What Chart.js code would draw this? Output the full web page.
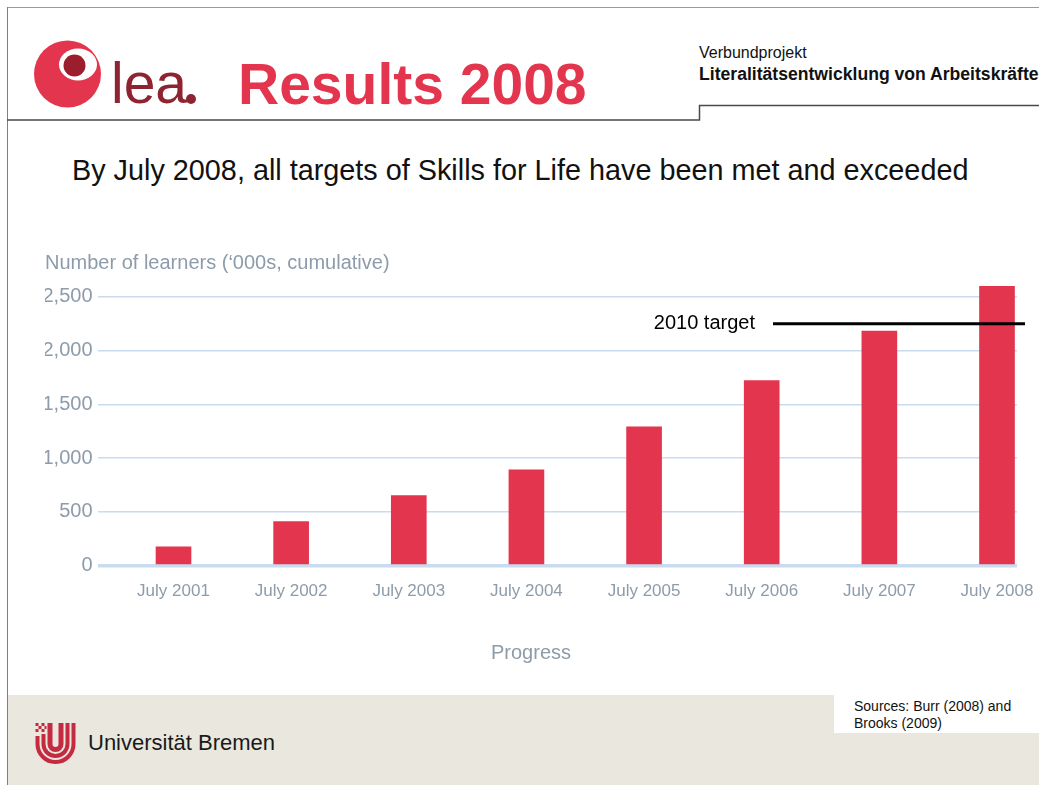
<!DOCTYPE html>
<html>
<head>
<meta charset="utf-8">
<script src="https://cdn.jsdelivr.net/npm/chart.js@4"></script>
<style>
  html, body { margin:0; padding:0; background:#fff; width:1039px; height:785px; overflow:hidden; }
  #deco { position:absolute; left:0; top:0; }
  #wrap { position:absolute; left:25px; top:241px; width:1014px; height:430px; }
  svg text { font-family:'Liberation Sans', Arial, Helvetica, sans-serif; }
</style>
</head>
<body>
<svg id="deco" width="1039" height="785" xmlns="http://www.w3.org/2000/svg">
  <!-- slide frame -->
  <line x1="7" y1="7.5" x2="1039" y2="7.5" stroke="#9a9a9a" stroke-width="1"/>
  <line x1="7.5" y1="7" x2="7.5" y2="785" stroke="#808080" stroke-width="1"/>
  <!-- footer band -->
  <rect x="8" y="695" width="1031" height="90" fill="#EAE8DE"/>
  <rect x="834" y="695" width="205" height="38" fill="#ffffff"/>
  <!-- header rule -->
  <polyline points="7,120 699.5,120 699.5,105.5 1039,105.5" fill="none" stroke="#4a4a4a" stroke-width="1.5"/>
  <!-- lea logo -->
  <circle cx="67.5" cy="74" r="33.5" fill="#E3364E"/>
  <ellipse cx="78" cy="64.5" rx="19" ry="16" fill="#ffffff"/>
  <circle cx="74.5" cy="65.5" r="11" fill="#9A1E2C"/>
  <text x="111" y="103" style="font-family:'Liberation Sans Narrow','Liberation Sans',Arial,sans-serif" font-size="57" fill="#8E2432">lea</text>
  <circle cx="191" cy="99" r="5" fill="#8E2432"/>
  <text x="238" y="104" font-size="57" font-weight="bold" fill="#E3364E">Results 2008</text>
  <!-- project header -->
  <text x="699" y="58" font-size="16" fill="#111">Verbundprojekt</text>
  <text x="699" y="80" font-size="17.6" font-weight="bold" fill="#111">Literalitätsentwicklung von Arbeitskräften</text>
  <!-- slide heading -->
  <text x="72" y="180" font-size="28.8" fill="#111">By July 2008, all targets of Skills for Life have been met and exceeded</text>
  <!-- Uni Bremen emblem -->
  <g fill="none" stroke="#C42A40">
    <path d="M50 723 V744 A5.5 5.5 0 0 0 61 744 V723" stroke-width="5"/>
    <path d="M43.5 734 V744 A12 12 0 0 0 67.5 744 V723" stroke-width="4"/>
    <path d="M37.5 736 V744 A18 18 0 0 0 73.5 744 V723" stroke-width="4"/>
  </g>
  <g fill="#C42A40">
    <rect x="35.5" y="723" width="3" height="3"/>
    <rect x="41.5" y="723" width="3" height="3"/>
    <rect x="38.5" y="726" width="3" height="3"/>
    <rect x="44.5" y="726" width="2" height="3"/>
    <rect x="35.5" y="729" width="3" height="3"/>
    <rect x="41.5" y="729" width="3" height="3"/>
  </g>
  <text x="88" y="750" font-size="22" fill="#1a1a1a">Universität Bremen</text>
  <text x="854" y="711" font-size="14" fill="#111">Sources: Burr (2008) and</text>
  <text x="854" y="728" font-size="14" fill="#111">Brooks (2009)</text>
</svg>
<div id="wrap"><canvas id="c"></canvas></div>
<script>
const categories = ['July 2001', 'July 2002', 'July 2003', 'July 2004', 'July 2005', 'July 2006', 'July 2007', 'July 2008'];
const learners = [175, 410, 650, 890, 1290, 1720, 2180, 2600];
const yTicks = [0, 500, 1000, 1500, 2000, 2500];
const target2010 = [2250];
const targetLabel = ['2010 target'];
const yTitle = 'Number of learners (\u2018000s, cumulative)';
const xTitle = 'Progress';

Chart.defaults.font.family = "'Liberation Sans', Arial, Helvetica, sans-serif";
const axisGray = '#8D9BAA';
const gridBlue = '#C9DCEF';

const targetPlugin = {
  id: 'target2010',
  afterDatasetsDraw(chart) {
    const { ctx, chartArea, scales } = chart;
    const y = scales.y.getPixelForValue(target2010[0]);
    const x0 = chartArea.right - 244;
    const x1 = chartArea.right + 8;
    ctx.save();
    ctx.strokeStyle = '#000';
    ctx.lineWidth = 3;
    ctx.beginPath();
    ctx.moveTo(x0, y);
    ctx.lineTo(x1, y);
    ctx.stroke();
    ctx.fillStyle = '#000';
    ctx.font = "20px 'Liberation Sans', Arial, sans-serif";
    ctx.textAlign = 'right';
    ctx.textBaseline = 'middle';
    ctx.fillText(targetLabel[0], x0 - 18, y);
    ctx.restore();
  }
};

new Chart(document.getElementById('c'), {
  type: 'bar',
  data: {
    datasets: [{
      data: learners.map((v, i) => ({ x: i + 1, y: v })),
      backgroundColor: '#E3364E',
      borderWidth: 0,
      barThickness: 35
    }]
  },
  options: {
    responsive: true,
    maintainAspectRatio: false,
    animation: false,
    layout: { padding: { left: 20, right: 22, top: 10, bottom: 6 } },
    plugins: {
      legend: { display: false },
      tooltip: { enabled: false },
      title: {
        display: true, text: yTitle, align: 'start', color: axisGray,
        font: { size: 20, weight: 'normal' }, padding: { top: 0, bottom: 11 }
      },
      subtitle: {
        display: true, text: xTitle, position: 'bottom', align: 'center', color: axisGray,
        font: { size: 20, weight: 'normal' }, padding: { top: 39, bottom: 0 }
      }
    },
    scales: {
      x: {
        type: 'linear',
        offset: false,
        min: 0.354,
        max: 8.17,
        grid: { display: false, drawTicks: false, offset: false },
        border: { display: false },
        afterBuildTicks: ax => { ax.ticks = categories.map((c, i) => ({ value: i + 1 })); },
        afterFit: ax => { ax.paddingLeft = 0; ax.paddingRight = 0; ax.height = 36.4; },
        ticks: {
          callback: v => categories[Math.round(v) - 1],
          color: axisGray, font: { size: 17 }, padding: 16,
          autoSkip: false, maxRotation: 0, minRotation: 0
        }
      },
      y: {
        min: 0,
        max: 2600,
        grid: {
          color: gridBlue,
          lineWidth: c => (c.tick && c.tick.value === 0 ? 3.5 : 1.5),
          drawTicks: false
        },
        border: { display: false },
        afterBuildTicks: ax => { ax.ticks = yTicks.map(v => ({ value: v })); },
        afterFit: ax => { ax.width = 52.5; },
        ticks: {
          color: axisGray, font: { size: 20 }, padding: 5,
          callback: v => Number(v).toLocaleString('en-US')
        }
      }
    }
  },
  plugins: [targetPlugin]
});
</script>
</body>
</html>
